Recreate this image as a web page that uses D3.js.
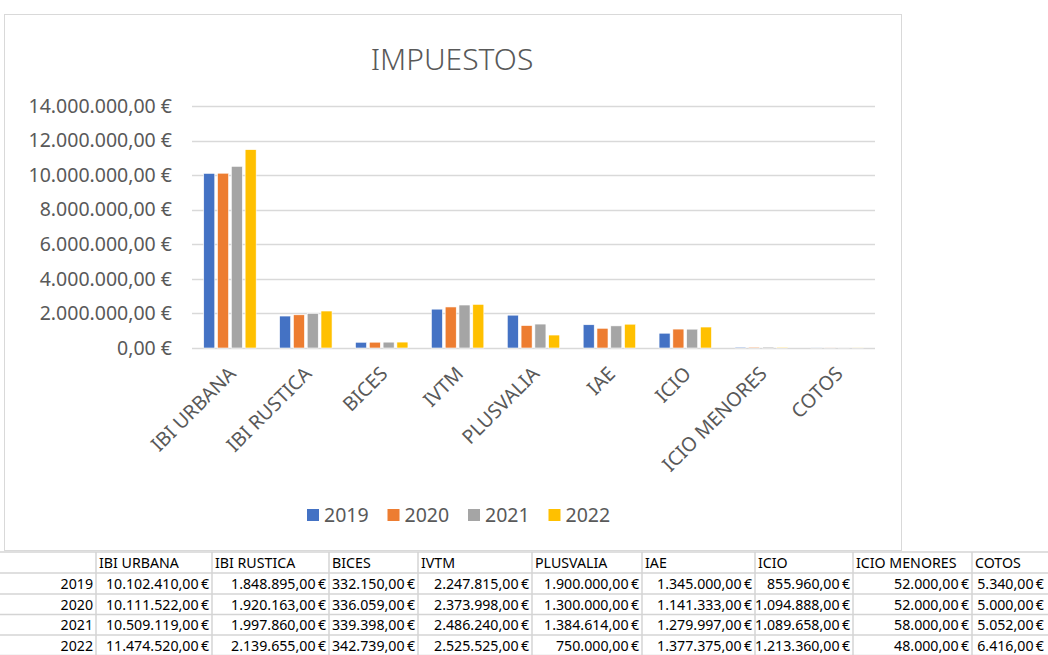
<!DOCTYPE html>
<html>
<head>
<meta charset="utf-8">
<script src="https://cdn.jsdelivr.net/npm/d3@7"></script>
<style>
  html, body { margin: 0; padding: 0; background: #fff; }
  svg { display: block; font-family: "Noto Sans", "Open Sans", sans-serif; }
</style>
</head>
<body>
<div id="chart"></div>
<script>
// data
const categories = ["IBI URBANA", "IBI RUSTICA", "BICES", "IVTM", "PLUSVALIA", "IAE", "ICIO", "ICIO MENORES", "COTOS"];
const years = ["2019", "2020", "2021", "2022"];
const values2019 = [10102410, 1848895, 332150, 2247815, 1900000, 1345000, 855960, 52000, 5340];
const values2020 = [10111522, 1920163, 336059, 2373998, 1300000, 1141333, 1094888, 52000, 5000];
const values2021 = [10509119, 1997860, 339398, 2486240, 1384614, 1279997, 1089658, 58000, 5052];
const values2022 = [11474520, 2139655, 342739, 2525525, 750000, 1377375, 1213360, 48000, 6416];
const yTicks = [0, 2e6, 4e6, 6e6, 8e6, 10e6, 12e6, 14e6];
const colors = ["#4472C4", "#ED7D31", "#A5A5A5", "#FFC000"];

const series = [values2019, values2020, values2021, values2022];

const width = 1048, height = 655;
const plot = { left: 192, right: 875, top: 106, bottom: 348 };

const locale = d3.formatLocale({ decimal: ",", thousands: ".", grouping: [3], currency: ["", " €"] });
const euro = locale.format("$,.2f");
// the sheet cells use a tighter gap before the euro sign
const cellLocale = d3.formatLocale({ decimal: ",", thousands: ".", grouping: [3], currency: ["", "\u2009€"] });
const cellEuro = cellLocale.format("$,.2f");

const svg = d3.select("#chart").append("svg")
  .attr("width", width).attr("height", height)
  .style("overflow", "hidden");

// chart frame
svg.append("rect")
  .attr("x", 4.5).attr("y", 14.5)
  .attr("width", 897).attr("height", 536)
  .attr("fill", "#fff").attr("stroke", "#d9d9d9");

svg.append("text")
  .attr("x", 452).attr("y", 70)
  .attr("text-anchor", "middle")
  .attr("font-size", 30).attr("font-weight", 300)
  .attr("fill", "#595959")
  .text("IMPUESTOS");

const x0 = d3.scaleBand().domain(categories).range([plot.left, plot.right]);
const x1 = d3.scaleBand().domain(years).range([0, x0.bandwidth()])
  .paddingInner(0.2).paddingOuter(0.85);
const y = d3.scaleLinear().domain([0, 14e6]).range([plot.bottom, plot.top]);

// gridlines
svg.append("g")
  .selectAll("line")
  .data(yTicks)
  .join("line")
  .attr("x1", plot.left).attr("x2", plot.right)
  .attr("y1", d => Math.round(y(d)) + 0.5).attr("y2", d => Math.round(y(d)) + 0.5)
  .attr("stroke", "#d9d9d9").attr("stroke-width", 1.5);

// y labels
const yAxis = svg.append("g")
  .attr("transform", `translate(${plot.left - 20},0)`)
  .call(d3.axisLeft(y).tickValues(yTicks).tickFormat(euro).tickSize(0).tickPadding(0));
yAxis.select(".domain").remove();
yAxis.selectAll("text")
  .attr("font-size", 19.5)
  .attr("font-family", "\"Noto Sans\", sans-serif")
  .attr("fill", "#595959");

// bars
const groups = svg.append("g")
  .selectAll("g")
  .data(categories)
  .join("g")
  .attr("transform", d => `translate(${x0(d)},0)`);

groups.selectAll("rect")
  .data((c, i) => years.map((yr, k) => ({ yr, k, v: series[k][i] })))
  .join("rect")
  .attr("x", d => x1(d.yr))
  .attr("width", x1.bandwidth())
  .attr("y", d => y(d.v))
  .attr("height", d => Math.max(0, y(0) - y(d.v)))
  .attr("fill", d => colors[d.k])
  .attr("stroke", "#fff").attr("stroke-width", 0.6);

// x labels rotated
svg.append("g")
  .selectAll("text")
  .data(categories)
  .join("text")
  .attr("transform", d => `translate(${x0(d) + x0.bandwidth() / 2 + 7},${plot.bottom + 27}) rotate(-45)`)
  .attr("text-anchor", "end")
  .attr("font-size", 19.5)
  .attr("fill", "#595959")
  .text(d => d);

// legend
const legendX = d3.scaleBand().domain(years).range([307, 629]);
const legend = svg.append("g")
  .selectAll("g")
  .data(years)
  .join("g")
  .attr("transform", d => `translate(${legendX(d)},515)`);
legend.append("rect")
  .attr("x", 0).attr("y", -6).attr("width", 12).attr("height", 12)
  .attr("fill", (d, i) => colors[i]);
legend.append("text")
  .attr("x", 17).attr("y", 7)
  .attr("font-size", 19.5).attr("fill", "#595959")
  .text(d => d);

// data table under the chart
const colEdges = [0, 96, 212, 329, 418, 532, 642, 755, 853, 972, 1047];
const rowEdges = [552, 573, 594, 614.5, 635, 655.5];

const table = svg.append("g").attr("font-size", 14.2).attr("fill", "#000");

table.selectAll("line.h")
  .data(rowEdges)
  .join("line")
  .attr("class", "h")
  .attr("x1", 0).attr("x2", width)
  .attr("y1", d => d).attr("y2", d => d)
  .attr("stroke", "#d4d4d4").attr("stroke-width", 1.5);

table.selectAll("line.v")
  .data(colEdges.slice(1, -1))
  .join("line")
  .attr("class", "v")
  .attr("x1", d => d).attr("x2", d => d)
  .attr("y1", rowEdges[0]).attr("y2", height)
  .attr("stroke", "#d4d4d4").attr("stroke-width", 1.5);

// header row
table.selectAll("text.head")
  .data(categories)
  .join("text")
  .attr("class", "head")
  .attr("x", (d, i) => colEdges[i + 1] + 3)
  .attr("y", rowEdges[1] - 5)
  .text(d => d);

years.forEach((yr, k) => {
  const base = rowEdges[k + 2] - 5;
  table.append("text")
    .attr("x", colEdges[1] - 3).attr("y", base)
    .attr("text-anchor", "end")
    .text(yr);
  table.selectAll(null)
    .data(series[k])
    .join("text")
    .attr("x", (d, i) => colEdges[i + 2] - 3)
    .attr("y", base)
    .attr("text-anchor", "end")
    .text(d => cellEuro(d));
});
</script>
</body>
</html>
